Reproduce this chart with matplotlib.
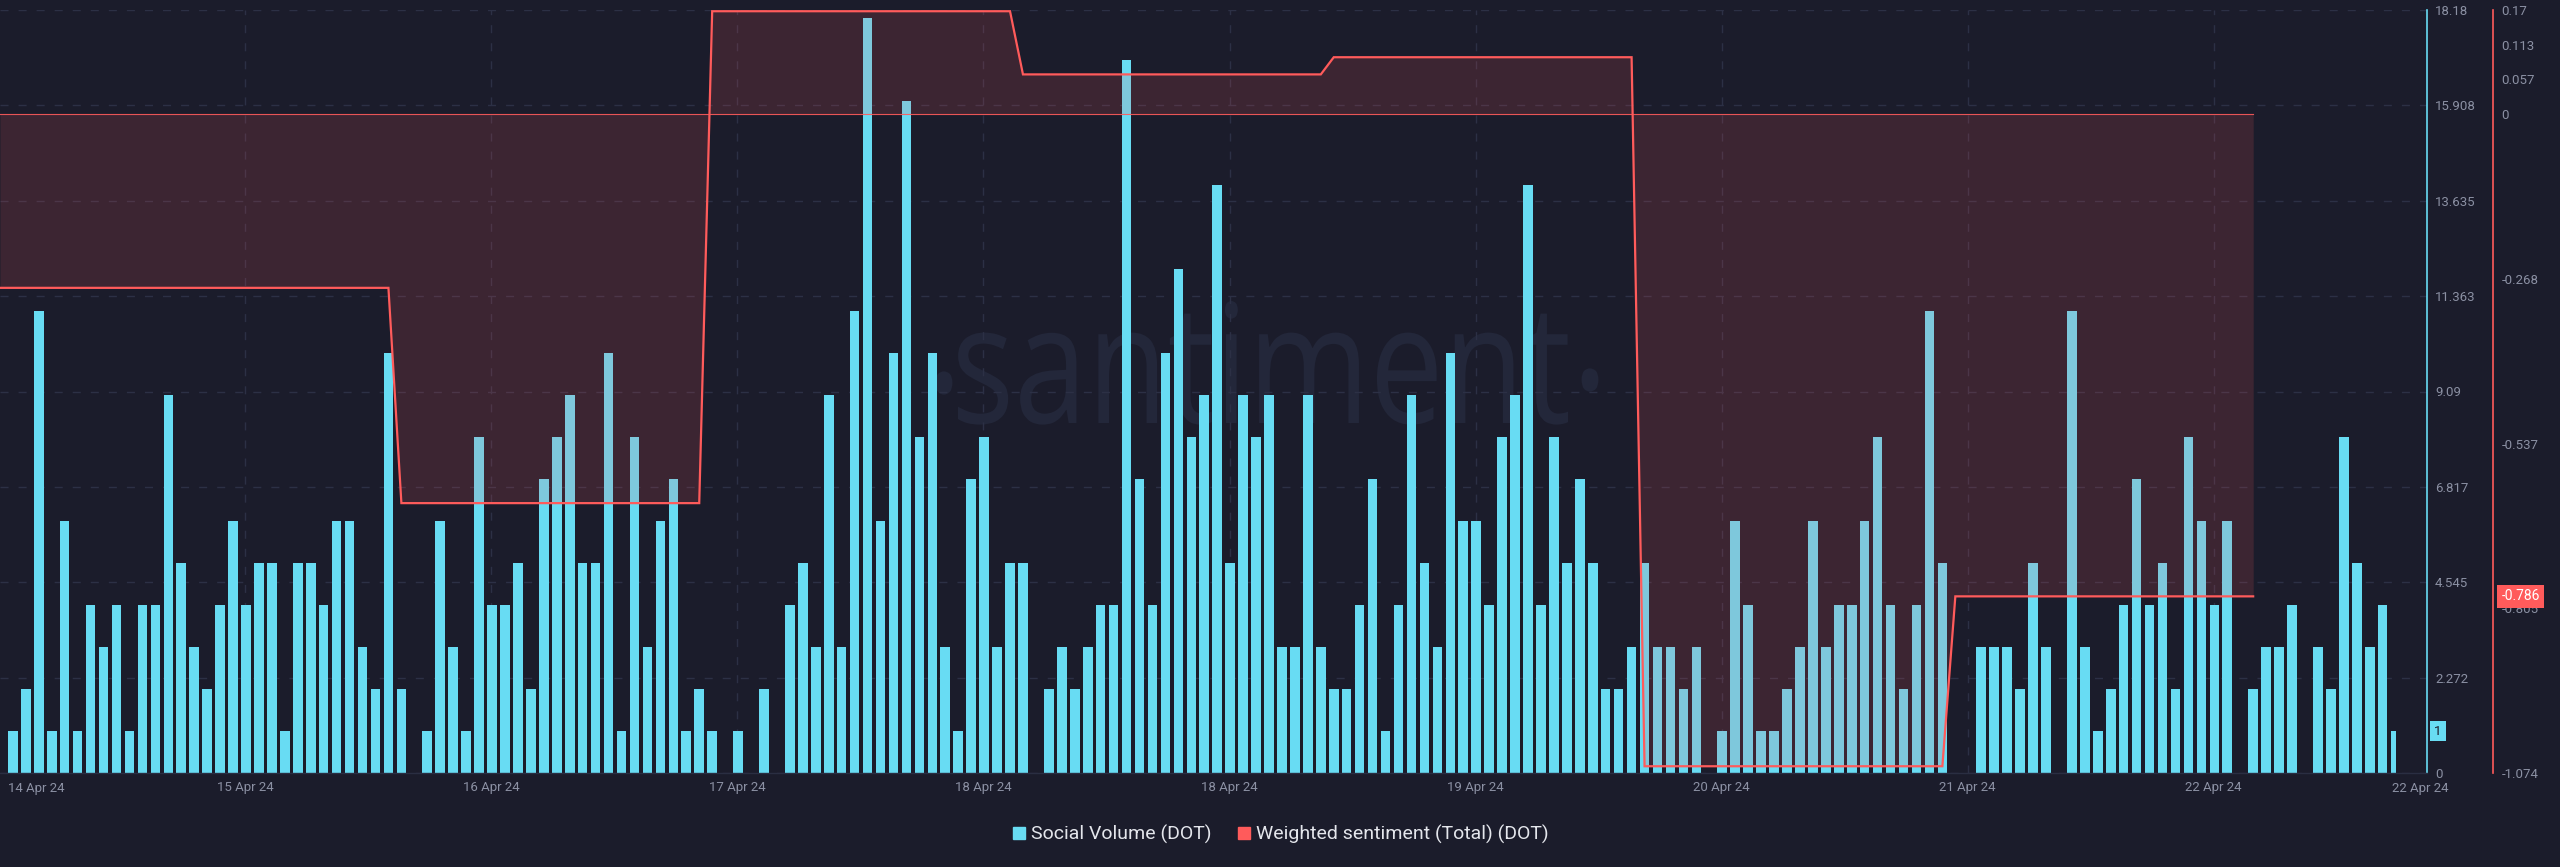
import numpy as np
import matplotlib
matplotlib.use("Agg")
import matplotlib.pyplot as plt
import matplotlib.transforms as mtransforms
from matplotlib.lines import Line2D
from matplotlib.textpath import TextPath
from matplotlib.patches import PathPatch
from matplotlib.font_manager import FontProperties

# ---------------- data ----------------
social_volume = [1, 2, 11, 1, 6, 1, 4, 3, 4, 1, 4, 4, 9, 5, 3, 2, 4, 6, 4, 5,
                 5, 1, 5, 5, 4, 6, 6, 3, 2, 10, 2, 0, 1, 6, 3, 1, 8, 4, 4, 5,
                 2, 7, 8, 9, 5, 5, 10, 1, 8, 3, 6, 7, 1, 2, 1, 0, 1, 0, 2, 0,
                 4, 5, 3, 9, 3, 11, 18, 6, 10, 16, 8, 10, 3, 1, 7, 8, 3, 5, 5, 0,
                 2, 3, 2, 3, 4, 4, 17, 7, 4, 10, 12, 8, 9, 14, 5, 9, 8, 9, 3, 3,
                 9, 3, 2, 2, 4, 7, 1, 4, 9, 5, 3, 10, 6, 6, 4, 8, 9, 14, 4, 8,
                 5, 7, 5, 2, 2, 3, 5, 3, 3, 2, 3, 0, 1, 6, 4, 1, 1, 2, 3, 6,
                 3, 4, 4, 6, 8, 4, 2, 4, 11, 5, 0, 0, 3, 3, 3, 2, 5, 3, 0, 11,
                 3, 1, 2, 4, 7, 4, 5, 2, 8, 6, 4, 6, 0, 2, 3, 3, 4, 0, 3, 2,
                 8, 5, 3, 4, 1]

# daily weighted sentiment, shown at hourly resolution
sentiment_daily = [-0.283, -0.634, 0.168, 0.065, 0.093, -1.063, -0.786]
sentiment_hours = [31, 24, 24, 24, 24, 24, 24]

x_labels = ["15 Apr 24", "16 Apr 24", "17 Apr 24", "18 Apr 24", "18 Apr 24",
            "19 Apr 24", "20 Apr 24", "21 Apr 24", "22 Apr 24"]
first_label = "14 Apr 24"
last_label = "22 Apr 24"

vol_ticks = [0, 2.272, 4.545, 6.817, 9.09, 11.363, 13.635, 15.908, 18.18]
vol_tick_labels = ["0", "2.272", "4.545", "6.817", "9.09", "11.363", "13.635", "15.908", "18.18"]
sent_ticks = [0.17, 0.113, 0.057, 0, -0.268, -0.537, -0.805, -1.074]
sent_tick_labels = ["0.17", "0.113", "0.057", "0", "-0.268", "-0.537", "-0.805", "-1.074"]

legend_labels = ["Social Volume (DOT)", "Weighted sentiment (Total) (DOT)"]

# ---------------- style ----------------
BG = "#1b1c2b"
CYAN = "#68dcf3"
RED = "#ff5b5b"
GRID = "#2c3045"
TXT = "#8b90a3"
FONT = "Roboto"
plt.rcParams["font.family"] = [FONT, "DejaVu Sans"]

W, H = 2560, 867
fig = plt.figure(figsize=(W / 100, H / 100), dpi=100, facecolor=BG)
ax_left_px, ax_right_px, ax_top_px, ax_bot_px = 0, 2426.7, 10, 773
ax = fig.add_axes([ax_left_px / W, (H - ax_bot_px) / H,
                   (ax_right_px - ax_left_px) / W, (ax_bot_px - ax_top_px) / H])
ax.set_facecolor("none")

n = len(social_volume)
x = np.arange(n)
widths = np.full(n, 0.74)
widths[-1] = 0.37
lefts = x - 0.37
ax.bar(lefts, social_volume, width=widths, align="edge", color=CYAN, zorder=2, linewidth=0)

ax.set_xlim(-0.996, 186.4)
ax.set_ylim(0, 18.18)

# grid
tick_x = 17.95 + 19 * np.arange(len(x_labels))
ax.set_xticks(tick_x)
ax.set_xticklabels(x_labels)
ax.set_yticks(vol_ticks)
ax.set_yticklabels(vol_tick_labels)
ax.set_axisbelow(True)
ax.grid(True, color=GRID, linewidth=1.0, linestyle=(0, (5.8, 7.2)), zorder=0)
ax.tick_params(axis="x", length=0, pad=6, labelsize=9.5, labelcolor=TXT)
for s in ["top", "left"]:
    ax.spines[s].set_visible(False)
ax.spines["bottom"].set_color("#2a2e42")
ax.spines["bottom"].set_linewidth(1.0)
ax.spines["right"].set_color(CYAN)
ax.spines["right"].set_linewidth(1.2)

# edge date labels
trans_x = mtransforms.blended_transform_factory(fig.transFigure, ax.transAxes)
ax.text(8 / W, -0.0113, first_label, transform=trans_x, ha="left", va="top",
        fontsize=9.5, color=TXT)
ax.text(2448 / W, -0.0113, last_label, transform=trans_x, ha="right", va="top",
        fontsize=9.5, color=TXT)

# watermark
fp = FontProperties(family="Open Sans")
tp = TextPath((0, 0), "santiment", size=100, prop=fp)
bb = tp.get_extents()
sx = (1568 - 958) / bb.width
sy = 122 / bb.y1
wm_tr = (mtransforms.Affine2D().translate(-bb.x0, 0).scale(sx, sy)
         .translate(958, H - 423).scale(1 / 100) + fig.dpi_scale_trans)
wm = PathPatch(tp, facecolor="#23273a", edgecolor="none", transform=wm_tr, zorder=0.5)
ax.add_artist(wm)
dp = TextPath((0, 0), "\u00b7", size=100, prop=fp)
dbb = dp.get_extents()
for cx, cy in [(944, 383), (1590, 380)]:
    dtr = (mtransforms.Affine2D().translate(-(dbb.x0 + dbb.x1) / 2, -(dbb.y0 + dbb.y1) / 2)
           .scale(sx * 1.1, sy * 1.1).translate(cx, H - cy).scale(1 / 100) + fig.dpi_scale_trans)
    ax.add_artist(PathPatch(dp, facecolor="#23273a", edgecolor="none", transform=dtr, zorder=0.5))

# sentiment axis
ax2 = ax.twinx()
ax2.set_ylim(-1.074, 0.17)

# volume ticks on the right (twinx resets them to the left)
ax.yaxis.tick_right()
ax.yaxis.set_label_position("right")
ax.tick_params(axis="y", length=0, pad=6, labelsize=9.5, labelcolor=TXT,
               left=False, labelleft=False, right=True, labelright=True)

sent = np.repeat(sentiment_daily, sentiment_hours)
sx_idx = np.arange(len(sent)) - 1
ax2.fill_between(sx_idx, sent, 0, color=RED, alpha=0.15, linewidth=0, zorder=3)
ax2.plot([sx_idx[0], sx_idx[-1]], [0, 0], color=RED, linewidth=0.8, alpha=0.9, zorder=4)
ax2.plot(sx_idx, sent, color=RED, linewidth=1.6, zorder=5, solid_joinstyle="miter")
ax2.set_yticks(sent_ticks)
ax2.set_yticklabels(sent_tick_labels)
ax2.tick_params(axis="y", length=0, pad=6, labelsize=9.5, labelcolor=TXT)
for s in ["top", "left", "bottom"]:
    ax2.spines[s].set_visible(False)
ax2.spines["right"].set_position(("axes", 2493.3 / 2426.7))
ax2.spines["right"].set_color(RED)
ax2.spines["right"].set_linewidth(1.2)

# current value badges
tr1 = mtransforms.blended_transform_factory(ax.transAxes, ax.transData)
ax.text(1 + 7.5 / 2426.7, social_volume[-1], str(social_volume[-1]), transform=tr1,
        ha="left", va="center", fontsize=9.5, color=BG, zorder=10,
        bbox=dict(boxstyle="square,pad=0.3", fc=CYAN, ec="none"))
tr2 = mtransforms.blended_transform_factory(ax2.transAxes, ax2.transData)
ax2.text(2501.3 / 2426.7, sentiment_daily[-1], f"{sentiment_daily[-1]:.3f}", transform=tr2,
         ha="left", va="center", fontsize=10, color="white", zorder=10,
         bbox=dict(boxstyle="square,pad=0.3", fc=RED, ec="none"))

# legend
handles = [Line2D([], [], marker="s", linestyle="none", color=CYAN, markersize=8.5),
           Line2D([], [], marker="s", linestyle="none", color=RED, markersize=8.5)]
fig.legend(handles, legend_labels, loc="center", bbox_to_anchor=(0.5, (H - 834) / H),
           ncol=2, frameon=False, fontsize=14, labelcolor="#e4e6ec",
           handletextpad=0.2, columnspacing=1.3, handlelength=0.8)

fig.savefig("out.png", dpi=100, facecolor=BG)
